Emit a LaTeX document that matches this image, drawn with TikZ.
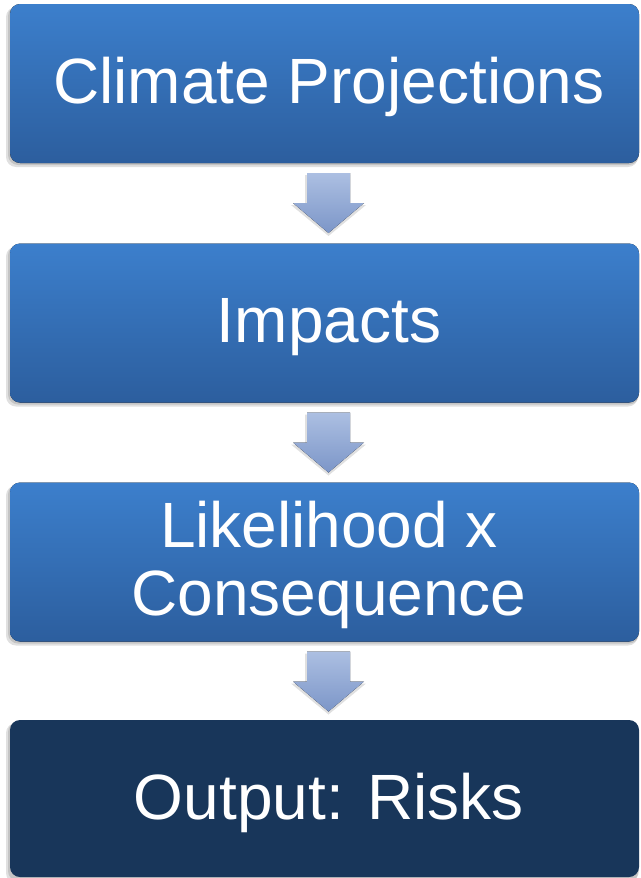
\documentclass[tikz,border=0pt]{standalone}
\usepackage{fontspec}
\setmainfont{Liberation Sans}
\definecolor{boxtop}{RGB}{60,127,204}
\definecolor{boxbot}{RGB}{44,94,158}
\definecolor{darkbox}{RGB}{24,54,90}
\definecolor{arrtop}{RGB}{172,191,226}
\definecolor{arrbot}{RGB}{124,150,200}
\tikzset{
  stepbox/.style={rounded corners=10pt, top color=boxtop, bottom color=boxbot, draw=none},
  outbox/.style={rounded corners=10pt, fill=darkbox, draw=none},
  boxshadow/.style={rounded corners=10pt, fill=black, opacity=0.12, draw=none},
  boxtext/.style={text=white, font=\fontsize{64}{68}\selectfont, anchor=base, inner sep=0pt},
  downarrow/.style={top color=arrtop, bottom color=arrbot, draw=none},
  arrshadow/.style={fill=black, opacity=0.12, draw=none}
}
\begin{document}
\begin{tikzpicture}[x=1pt,y=-1pt]
\useasboundingbox (0,0) rectangle (640,878);
\fill[white] (0,0) rectangle (640,878);
% shadows
\foreach \t in {4,243.5,482.5,720}{
  \fill[boxshadow] (6,\t+3) rectangle (638,\t+163);
  \fill[boxshadow] (8,\t+2) rectangle (639,\t+161);
}
% boxes
\fill[stepbox] (10,4) rectangle (639,163);
\node[boxtext] (b1) at (329,103) {Climate Projections};
\fill[stepbox] (10,243.5) rectangle (639,402.5);
\node[boxtext] (b2) at (329,342) {Impacts};
\fill[stepbox] (10,482.5) rectangle (639,641.5);
\node[boxtext] (b3a) at (329,547) {Likelihood x};
\node[boxtext] (b3b) at (329,615) {Consequence};
\fill[outbox] (10,720) rectangle (639,877);
\node[boxtext] (b4) at (329,819) {Output: Risks};
% arrows
\foreach \t in {173,412.5,651.5}{
  \fill[arrshadow] (305,\t+2) -- (350,\t+2) -- (350,\t+32) -- (366,\t+32) -- (328.5,\t+63) -- (291,\t+32) -- (305,\t+32) -- cycle;
  \fill[downarrow] (307,\t) -- (350,\t) -- (350,\t+30) -- (364,\t+30) -- (328.5,\t+60) -- (293,\t+30) -- (307,\t+30) -- cycle;
}
\end{tikzpicture}
\end{document}
